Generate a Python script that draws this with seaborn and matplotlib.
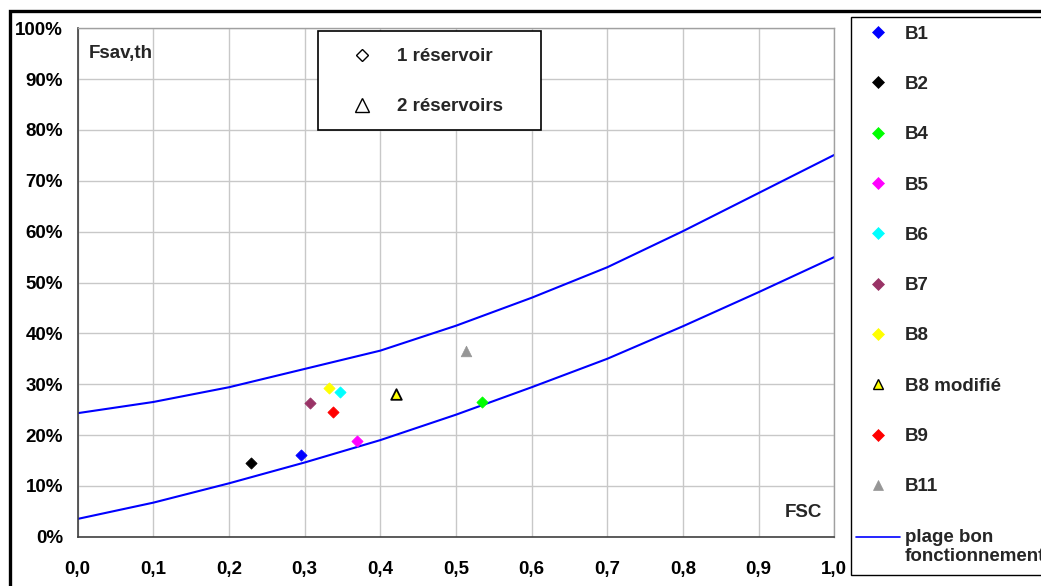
import matplotlib
matplotlib.use("Agg")
import numpy as np
import matplotlib.pyplot as plt
import seaborn as sns
import pandas as pd
from matplotlib.lines import Line2D
from matplotlib.patches import Rectangle
from matplotlib.ticker import FixedLocator, FixedFormatter
from matplotlib.legend_handler import HandlerLine2D

# ---------------- data ----------------
series = ["B1", "B2", "B4", "B5", "B6", "B7", "B8", "B8 modifié", "B9", "B11"]
fsc = [0.295, 0.229, 0.534, 0.369, 0.347, 0.307, 0.332, 0.421, 0.337, 0.513]
fsav = [16.0, 14.5, 26.5, 18.9, 28.4, 26.2, 29.3, 28.0, 24.6, 36.5]
face_colors = ["#0000ff", "#000000", "#00ff00", "#ff00ff", "#00ffff",
               "#993366", "#ffff00", "#ffff00", "#ff0000", "#969696"]
edge_colors = ["#0000ff", "#000000", "#00ff00", "#ff00ff", "#00ffff",
               "#993366", "#ffff00", "#000000", "#ff0000", "#969696"]
marker_types = ["D", "D", "D", "D", "D", "D", "D", "^", "D", "^"]

fsc_grid = [0.0, 0.1, 0.2, 0.3, 0.4, 0.5, 0.6, 0.7, 0.8, 0.9, 1.0]
plage_haute = [24.3, 26.5, 29.4, 33.0, 36.6, 41.5, 47.0, 53.0, 60.1, 67.6, 75.1]
plage_basse = [3.5, 6.7, 10.5, 14.6, 19.0, 24.0, 29.4, 35.0, 41.4, 48.1, 55.0]

x_tick_values = [0.0, 0.1, 0.2, 0.3, 0.4, 0.5, 0.6, 0.7, 0.8, 0.9, 1.0]
x_tick_labels = ["0,0", "0,1", "0,2", "0,3", "0,4", "0,5", "0,6", "0,7", "0,8", "0,9", "1,0"]
y_tick_values = [0, 10, 20, 30, 40, 50, 60, 70, 80, 90, 100]
y_tick_labels = ["0%", "10%", "20%", "30%", "40%", "50%", "60%", "70%", "80%", "90%", "100%"]

pts = pd.DataFrame({"FSC": fsc, "Fsav": fsav, "serie": series})
plage = pd.DataFrame({
    "FSC": fsc_grid + fsc_grid,
    "Fsav": plage_haute + plage_basse,
    "borne": ["haute"] * len(fsc_grid) + ["basse"] * len(fsc_grid),
})

# ---------------- style ----------------
sns.set_theme(style="whitegrid")
plt.rcParams["font.family"] = ["Liberation Sans", "DejaVu Sans"]
plt.rcParams["font.weight"] = "bold"
FS = 13.5

W, H = 1041, 586
fig = plt.figure(figsize=(W / 100, H / 100), dpi=100)
fig.patch.set_facecolor("white")

def fx(px):
    return px / W

def fy(py):
    return 1 - py / H

ax = fig.add_axes([fx(77.7), fy(536.7), fx(834.3) - fx(77.7), fy(28.3) - fy(536.7)])
ax.set_facecolor("white")

# lines
sns.lineplot(data=plage, x="FSC", y="Fsav", units="borne", estimator=None,
             color="#0000ff", linewidth=1.5, ax=ax, zorder=2)

# points
for name, fc, ec, mk in zip(series, face_colors, edge_colors, marker_types):
    sub = pts[pts["serie"] == name]
    if mk == "D":
        size, lw = 32, 0.6
    else:
        size, lw = 58, 1.3 if name == "B8 modifié" else 0.5
    sns.scatterplot(data=sub, x="FSC", y="Fsav", marker=mk, s=size,
                    color=fc, edgecolor=ec, linewidth=lw, ax=ax, zorder=3,
                    legend=False)

ax.set_xlim(0, 1.0)
ax.set_ylim(0, 100)
ax.xaxis.set_major_locator(FixedLocator(x_tick_values))
ax.xaxis.set_major_formatter(FixedFormatter(x_tick_labels))
ax.yaxis.set_major_locator(FixedLocator(y_tick_values))
ax.yaxis.set_major_formatter(FixedFormatter(y_tick_labels))
ax.set_xlabel("")
ax.set_ylabel("")
ax.grid(True, color="#c8c8c8", linewidth=1.0)
ax.tick_params(axis="both", which="major", direction="out", length=4.5,
               width=1.0, color="#404040", labelsize=FS, labelcolor="black")
ax.tick_params(axis="x", pad=13.0)
ax.tick_params(axis="y", pad=6)
for lab in ax.get_xticklabels() + ax.get_yticklabels():
    lab.set_fontweight("bold")
for side in ["left", "bottom"]:
    ax.spines[side].set_visible(True)
    ax.spines[side].set_color("#404040")
    ax.spines[side].set_linewidth(1.2)
for side in ["top", "right"]:
    ax.spines[side].set_visible(True)
    ax.spines[side].set_color("#a0a0a0")
    ax.spines[side].set_linewidth(1.0)

ax.text(0.014, 0.950, "Fsav,th", transform=ax.transAxes, fontsize=FS,
        fontweight="bold", ha="left", va="center")
ax.text(0.984, 0.048, "FSC", transform=ax.transAxes, fontsize=FS,
        fontweight="bold", ha="right", va="center")

# outer thick frame
fig.patches.append(Rectangle((fx(10), -0.2), 2.0, fy(11.3) + 0.2,
                             transform=fig.transFigure, fill=False,
                             edgecolor="black", linewidth=2.4, zorder=0))

# inner legend (1 / 2 reservoirs)
fig.patches.append(Rectangle((fx(318.3), fy(130)), fx(541) - fx(318.3), fy(31) - fy(130),
                             transform=fig.transFigure, facecolor="white",
                             edgecolor="black", linewidth=1.2, zorder=5))
res_handles = [
    Line2D([], [], linestyle="none", marker="D", markersize=6.6,
           markerfacecolor="white", markeredgecolor="black", markeredgewidth=1.0),
    Line2D([], [], linestyle="none", marker="^", markersize=10,
           markerfacecolor="white", markeredgecolor="black", markeredgewidth=1.0),
]
leg1 = fig.legend(res_handles, ["1 réservoir", "2 réservoirs"],
                  loc="upper left", bbox_to_anchor=(fx(343.3), fy(48)),
                  bbox_transform=fig.transFigure, frameon=False,
                  prop={"weight": "bold", "size": FS},
                  handlelength=2.0, handletextpad=0.86, labelspacing=1.77,
                  borderpad=0, borderaxespad=0)
leg1.set_zorder(6)


class HandlerLineFirstRow(HandlerLine2D):
    """Draw the legend line level with the first line of a two-line label."""
    def create_artists(self, legend, orig_handle, xdescent, ydescent,
                       width, height, fontsize, trans):
        artists = super().create_artists(legend, orig_handle, xdescent, ydescent,
                                         width, height, fontsize, trans)
        for a in artists:
            a.set_ydata(np.asarray(a.get_ydata(), dtype=float) + 0.55 * fontsize)
        return artists


# right legend
fig.patches.append(Rectangle((fx(850.7), fy(575)), 1.0, fy(16.7) - fy(575),
                             transform=fig.transFigure, facecolor="white",
                             edgecolor="black", linewidth=1.0, zorder=5))
handles = []
for name, fc, ec, mk in zip(series, face_colors, edge_colors, marker_types):
    ms = 6.2 if mk == "D" else 7.8
    mew = 1.0 if name == "B8 modifié" else 0.5
    handles.append(Line2D([], [], linestyle="none", marker=mk, markersize=ms,
                          markerfacecolor=fc, markeredgecolor=ec, markeredgewidth=mew))
line_handle = Line2D([], [], color="#0000ff", linewidth=1.2)
handles.append(line_handle)
labels = series + ["plage bon\nfonctionnement"]
leg2 = fig.legend(handles, labels, loc="upper left",
                  bbox_to_anchor=(fx(856.3), fy(25.5)), bbox_transform=fig.transFigure,
                  frameon=False, prop={"weight": "bold", "size": FS},
                  handlelength=2.31, handletextpad=0.29, labelspacing=1.77,
                  borderpad=0, borderaxespad=0,
                  handler_map={line_handle: HandlerLineFirstRow()})
leg2.set_zorder(6)

fig.savefig("out.png", dpi=100, facecolor="white")
